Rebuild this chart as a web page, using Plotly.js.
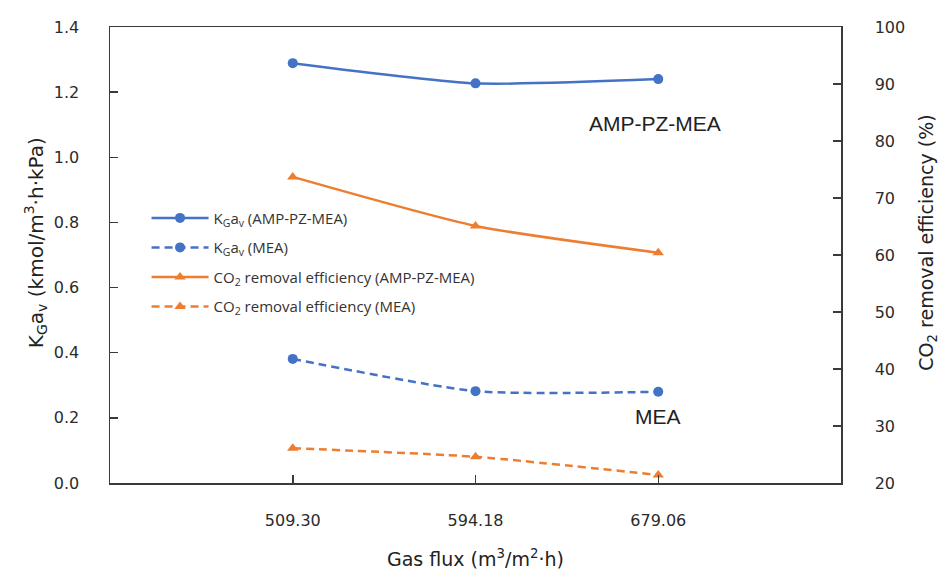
<!DOCTYPE html>
<html>
<head>
<meta charset="utf-8">
<script src="https://cdn.plot.ly/plotly-3.0.1.min.js"></script>
<style>
  html, body { margin: 0; padding: 0; background: #fff; }
  #chart { width: 949px; height: 577px; }
</style>
</head>
<body>
<div id="chart"></div>
<script>
// Gas flux levels (m3/m2.h)
const gasFlux = ['509.30', '594.18', '679.06'];

// Overall mass-transfer coefficient KGav (kmol/m3.h.kPa)
const kgaAmpPzMea = [1.289, 1.227, 1.240];
const kgaMea = [0.381, 0.282, 0.280];

// CO2 removal efficiency (%)
const effAmpPzMea = [73.7, 65.1, 60.4];
const effMea = [26.1, 24.6, 21.4];

const leftTicks = [0, 0.2, 0.4, 0.6, 0.8, 1.0, 1.2, 1.4];
const rightTicks = [20, 30, 40, 50, 60, 70, 80, 90, 100];

const BLUE = '#4472C4';
const ORANGE = '#ED7D31';
const AXIS = '#3a3a3a';
const TICKFONT = { family: 'DejaVu Sans', size: 16, color: '#2b2b2b' };
const TITLEFONT = { family: 'DejaVu Sans', size: 19, color: '#222' };

const traces = [
  {
    x: gasFlux, y: kgaAmpPzMea, yaxis: 'y', name: 'K<sub>G</sub>a<sub>v</sub> (AMP-PZ-MEA)',
    legendgroup: 'a', mode: 'lines+markers',
    line: { color: BLUE, width: 2.5, shape: 'spline', smoothing: 0.6 },
    marker: { symbol: 'circle', size: 10, color: BLUE }
  },
  {
    x: gasFlux, y: kgaMea, yaxis: 'y', name: 'K<sub>G</sub>a<sub>v</sub> (MEA)',
    legendgroup: 'b', mode: 'lines+markers',
    line: { color: BLUE, width: 2.5, dash: '8px,5px', shape: 'spline', smoothing: 0.6 },
    marker: { symbol: 'circle', size: 10, color: BLUE }
  },
  {
    x: gasFlux, y: effAmpPzMea, yaxis: 'y2', name: 'CO<sub>2</sub> removal efficiency (AMP-PZ-MEA)',
    legendgroup: 'c', mode: 'lines+markers',
    line: { color: ORANGE, width: 2.5, shape: 'spline', smoothing: 0.6 },
    marker: { symbol: 'triangle-up', size: 10, color: ORANGE }
  },
  {
    x: gasFlux, y: effMea, yaxis: 'y2', name: 'CO<sub>2</sub> removal efficiency (MEA)',
    legendgroup: 'd', mode: 'lines+markers',
    line: { color: ORANGE, width: 2.5, dash: '8px,5px', shape: 'spline', smoothing: 0.6 },
    marker: { symbol: 'triangle-up', size: 10, color: ORANGE }
  }
];

const layout = {
  width: 949, height: 577,
  margin: { l: 110, r: 108, t: 27, b: 94 },
  paper_bgcolor: '#fff', plot_bgcolor: '#fff',
  showlegend: true,
  legend: {
    x: 0.05, y: 0.617, xanchor: 'left', yanchor: 'top',
    bgcolor: 'rgba(255,255,255,0)', borderwidth: 0,
    font: { family: 'Open Sans', size: 15, color: '#333' },
    tracegroupgap: 7, itemwidth: 57
  },
  xaxis: {
    type: 'category', range: [-1, 3],
    showline: true, linecolor: AXIS, linewidth: 1.5, mirror: true,
    showgrid: false, zeroline: false,
    ticks: 'inside', ticklen: 8, tickwidth: 1.5, tickcolor: AXIS,
    tickfont: TICKFONT, ticklabelstandoff: 22
  },
  yaxis: {
    range: [0, 1.4], tickvals: leftTicks, tickformat: '.1f',
    showline: true, linecolor: AXIS, linewidth: 1.5,
    showgrid: false, zeroline: false,
    ticks: 'inside', ticklen: 8, tickwidth: 1.5, tickcolor: AXIS,
    tickfont: TICKFONT, ticklabelstandoff: 26
  },
  yaxis2: {
    range: [20, 100], tickvals: rightTicks, overlaying: 'y', side: 'right',
    showline: true, linecolor: AXIS, linewidth: 1.5,
    showgrid: false, zeroline: false,
    ticks: 'inside', ticklen: 8, tickwidth: 1.5, tickcolor: AXIS,
    tickfont: TICKFONT, ticklabelstandoff: 29
  },
  annotations: [
    { xref: 'paper', yref: 'paper', x: -0.125, y: 0.5, yshift: 12, textangle: -90,
      text: 'K<sub>G</sub>a<sub>v</sub> (kmol/m<sup>3</sup>·h·kPa)', showarrow: false,
      font: { family: 'DejaVu Sans', size: 20, color: '#222' } },
    { xref: 'paper', yref: 'paper', x: 1.137, y: 0.5, yshift: 12, textangle: -90,
      text: 'CO<sub>2</sub> removal efficiency (%)', showarrow: false, font: TITLEFONT },
    { xref: 'paper', yref: 'paper', x: 0.5, y: -0.165, yanchor: 'middle',
      text: 'Gas flux (m<sup>3</sup>/m<sup>2</sup>·h)', showarrow: false, font: TITLEFONT },
    { xref: 'x', yref: 'y', x: 1.98, y: 1.105, text: 'AMP-PZ-MEA', showarrow: false,
      font: { family: 'Liberation Sans', size: 21, color: '#222' } },
    { xref: 'x', yref: 'y', x: 2.0, y: 0.205, text: 'MEA', showarrow: false,
      font: { family: 'Liberation Sans', size: 21, color: '#222' } }
  ]
};

Plotly.newPlot('chart', traces, layout, { displayModeBar: false, staticPlot: true });
</script>
</body>
</html>
